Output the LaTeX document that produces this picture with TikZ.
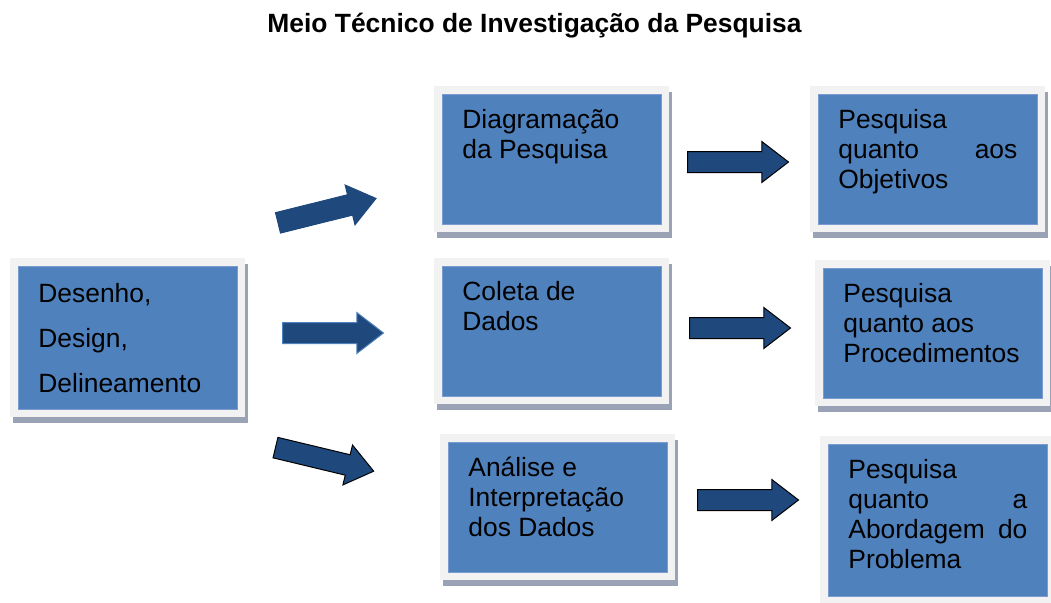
\documentclass[tikz,border=0pt]{standalone}
\usepackage{fontspec}
\setmainfont{Liberation Sans}
\usetikzlibrary{shapes.arrows}

\definecolor{azul}{HTML}{4F81BD}
\definecolor{azulescuro}{HTML}{1F497D}
\definecolor{moldura}{HTML}{F2F2F2}
\definecolor{sombra}{HTML}{9AA3B6}
\definecolor{borda}{HTML}{7A9CD0}

\newcommand{\caixatxt}[3][25.5pt]{\parbox[c][#2][t]{134.25pt}{\raggedright\rule{0pt}{#1}#3}}

\begin{document}
\begin{tikzpicture}[x=0.75pt,y=-0.75pt,
  caixa/.style={anchor=north west,fill=azul,draw=borda,line width=0.6pt,inner xsep=15pt,inner ysep=0pt,
    font=\fontsize{19.8pt}{22.5pt}\selectfont,
    preaction={draw=sombra,fill=sombra,line width=12pt,transform canvas={shift={(2.25pt,-4.5pt)}}},
    preaction={draw=moldura,line width=12pt}},
  seta/.style={single arrow,anchor=tail,fill=azulescuro,draw=black,line width=0.75pt,inner sep=0pt,inner ysep=7.5pt,
    minimum height=75.75pt,single arrow head extend=7.5pt,single arrow tip angle=75}]

  \useasboundingbox (0,0) rectangle (1051,603);

  \node[font=\bfseries\fontsize{19.8pt}{24pt}\selectfont,anchor=base]	(titulo)	at (534.5,32)	{Meio Técnico de Investigação da Pesquisa};

  \node[caixa,font=\fontsize{19.8pt}{33.75pt}\selectfont]	(desenho)	at (18,266)	{\caixatxt[27pt]{107.25pt}{Desenho,\\ Design,\\ Delineamento}};
  \node[caixa]	(diag)		at (442,94)	{\caixatxt{97.5pt}{Diagramação\\ da Pesquisa}};
  \node[caixa]	(coleta)	at (442,266)	{\caixatxt{97.5pt}{Coleta de\\ Dados}};
  \node[caixa]	(analise)	at (448,442)	{\caixatxt{97.5pt}{Análise e\\ Interpretação\\ dos Dados}};
  \node[caixa]	(objetivos)	at (818,94)	{\caixatxt{97.5pt}{Pesquisa\\ quanto\hfill aos\\ Objetivos}};
  \node[caixa]	(procedimentos)	at (823,268)	{\caixatxt{97.5pt}{Pesquisa\\ quanto aos\\ Procedimentos}};
  \node[caixa]	(abordagem)	at (828,444)	{\caixatxt{114pt}{Pesquisa\\ quanto\hfill a\\ Abordagem\hfill do\\ Problema}};

  % setas
  \node[seta,draw=azulescuro,rotate=14]	(seta1)	at (277.5,223)	{};
  \node[seta,draw=azul]			(seta2)	at (282,333)	{};
  \node[seta,rotate=-13.5]		(seta3)	at (275,447.5)	{};
  \node[seta]				(seta4)	at (687,162)	{};
  \node[seta]				(seta5)	at (689,328)	{};
  \node[seta]				(seta6)	at (697,500)	{};
\end{tikzpicture}
\end{document}
